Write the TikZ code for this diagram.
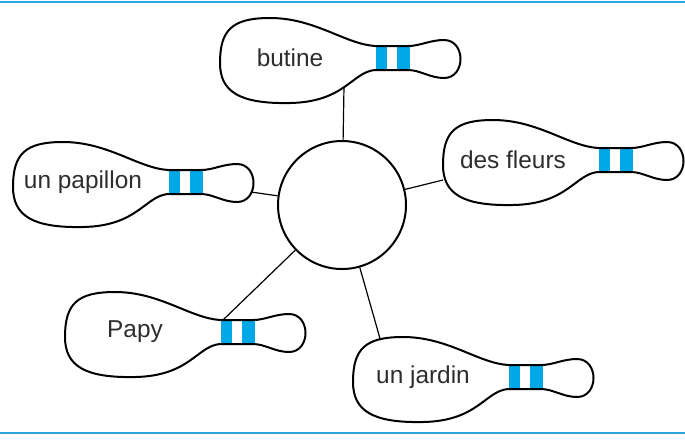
\documentclass[tikz,border=0pt]{standalone}
\usepackage{fontspec}
\setmainfont{Liberation Sans}
\definecolor{rulecol}{RGB}{45,165,225}
\definecolor{stripecol}{RGB}{0,168,232}
\definecolor{txtcol}{RGB}{45,45,45}
\newcommand{\pinpath}{(0,5)
 .. controls (0,-28) and (12,-40) .. (50,-40)
 .. controls (95,-40) and (125,-14) .. (155,-12)
 -- (188,-12)
 .. controls (200,-12) and (210,-18) .. (224,-18)
 .. controls (246,-18) and (246,20) .. (224,20)
 .. controls (210,20) and (200,12) .. (188,12)
 -- (155,12)
 .. controls (132,14) and (125,44) .. (70,45)
 .. controls (20,46) and (0,34) .. (0,5) -- cycle}
\newcommand{\bowlpin}[5]{%
 \begin{scope}[shift={(#2,#3)}]
  \begin{scope}
   \clip \pinpath;
   \fill[stripecol] (156,-25) rectangle (167,25);
   \fill[stripecol] (177,-25) rectangle (190,25);
  \end{scope}
  \draw[pinline] \pinpath;
  \node[pintext] (#1) at (70,0) {#4};
  \coordinate (#1-e) at (#5);
 \end{scope}}
\begin{document}
\begin{tikzpicture}[x=0.5pt,y=-0.5pt,
  pinline/.style={line width=1pt,line join=round},
  pintext/.style={font=\fontsize{12.2}{14}\selectfont,text=txtcol,inner sep=0pt},
  conn/.style={line width=0.6pt},
  hubstyle/.style={draw,circle,line width=1pt,minimum size=64pt,inner sep=0pt},
  rulestyle/.style={draw=rulecol,line width=1pt}]
\useasboundingbox (0,0) rectangle (685,441);
\coordinate (tl) at (0,2); \coordinate (tr) at (685,2);
\coordinate (bl) at (0,433); \coordinate (br) at (685,433);
\draw[rulestyle] (tl) -- (tr);
\draw[rulestyle] (bl) -- (br);
\node[hubstyle] (hub) at (342,205) {};
\bowlpin{butine}{220}{58}{butine}{124,28.5}
\bowlpin{papillon}{13}{182}{un papillon}{238,10}
\bowlpin{fleurs}{443}{160}{des fleurs}{0,20}
\bowlpin{papy}{65}{332}{Papy}{158,-12}
\bowlpin{jardin}{353}{377}{un jardin}{27,-38.5}
\draw[conn] (hub) -- (butine-e);
\draw[conn] (hub) -- (papillon-e);
\draw[conn] (hub) -- (fleurs-e);
\draw[conn] (hub) -- (papy-e);
\draw[conn] (hub) -- (jardin-e);
\end{tikzpicture}
\end{document}
